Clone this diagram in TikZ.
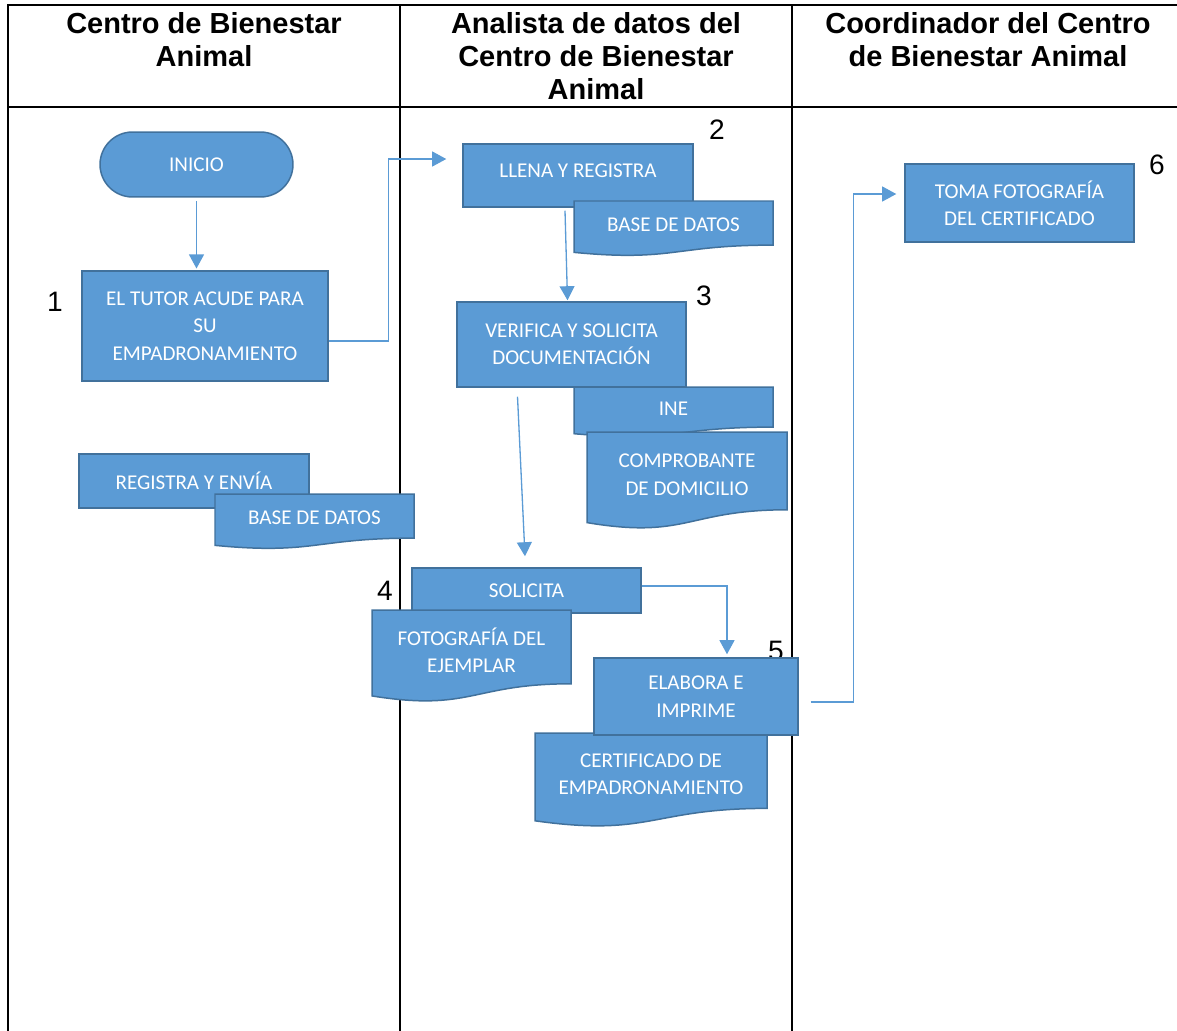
\documentclass[tikz,border=0pt]{standalone}
\usepackage{fontspec}
\setmainfont{Carlito}
\newfontfamily\headfont{Liberation Sans}
\usepackage{tikz}
\usetikzlibrary{arrows.meta}
\usepackage{xcolor}
\definecolor{boxfill}{HTML}{5B9BD5}
\definecolor{boxedge}{HTML}{41719C}
\tikzset{
  lane/.style={line width=1.2pt, black},
  proc/.style={draw=boxedge, fill=boxfill, line width=0.85pt, text=white,
    align=center, inner sep=0pt, font={\fontsize{12pt}{15.6pt}\selectfont}},
  doc/.style={draw=boxedge, fill=boxfill, line width=0.85pt},
  doctext/.style={text=white, align=center, inner sep=0pt,
    font={\fontsize{12pt}{15.6pt}\selectfont}},
  head/.style={align=center, font={\headfont\bfseries\fontsize{16.5pt}{18.7pt}\selectfont}},
  stepnum/.style={font={\headfont\fontsize{16pt}{18pt}\selectfont}},
  flow/.style={draw=boxfill, line width=0.75pt, -{Triangle[width=8.5pt,length=8pt]}}}
% document shape: name, x1, y1, x2, y2, text
\newcommand{\flowdoc}[6]{%
  \draw [doc] (#2,#3) -- (#4,#3) -- (#4,{#3+0.802*(#5-#3)})
    .. controls ({0.5*(#2+#4)},{#3+0.802*(#5-#3)}) and ({0.5*(#2+#4)},{#3+1.108*(#5-#3)}) .. (#2,{#3+0.934*(#5-#3)}) -- cycle;
  \node [doctext] (#1) at ({0.5*(#2+#4)},{#3+0.44*(#5-#3)}) {#6};}

\begin{document}
\begin{tikzpicture}[x=0.02cm, y=-0.02cm]
    \useasboundingbox (0,0) rectangle (1177,1031);

    % Swimlanes
    \draw [lane] (1177,5) -- (8,5) -- (8,1031);
    \draw [lane] (8,107) -- (1177,107);
    \draw [lane] (400,5) -- (400,1031);
    \draw [lane] (792,5) -- (792,1031);
    % Lane titles
    \node [head] (lane1) at (204,39.5) {Centro de Bienestar\\Animal};
    \node [head] (lane2) at (596,56) {Analista de datos del\\Centro de Bienestar\\Animal};
    \node [head] (lane3) at (988,39.5) {Coordinador del Centro\\de Bienestar Animal};

    % Step numbers
    \node [stepnum] (num1) at (55,302) {1};
    \node [stepnum] (num2) at (717,130) {2};
    \node [stepnum] (num3) at (704,296) {3};
    \node [stepnum] (num4) at (385,591) {4};
    \node [stepnum] (num5) at (776,651) {5};
    \node [stepnum] (num6) at (1157,165) {6};

    % Start
    \node [proc, rounded corners=0.65cm, minimum width=3.86cm, minimum height=1.3cm] (inicio) at (196.5,164.5) {INICIO};
    % Step 1
    \node [proc, minimum width=4.92cm, minimum height=2.2cm] (tutor) at (205,326) {EL TUTOR ACUDE PARA\\SU\\EMPADRONAMIENTO};
    \node [proc, minimum width=4.6cm, minimum height=1.08cm] (registra) at (194,481) {REGISTRA Y ENVÍA};
    \flowdoc{basea}{215}{494}{414}{549}{BASE DE DATOS}

    % Step 2
    \node [proc, minimum width=4.6cm, minimum height=1.26cm, text depth=0.2cm] (llena) at (578,175.5) {LLENA Y REGISTRA};
    \flowdoc{baseb}{574}{201}{773}{256}{BASE DE DATOS}

    % Step 3
    \node [proc, minimum width=4.58cm, minimum height=1.7cm] (verifica) at (571.5,344.5) {VERIFICA Y SOLICITA\\DOCUMENTACIÓN};
    \flowdoc{ine}{574}{387}{773}{437}{INE}
    \flowdoc{domicilio}{587}{432}{787}{529}{COMPROBANTE\\DE DOMICILIO}

    % Step 4
    \node [proc, minimum width=4.58cm, minimum height=0.9cm] (solicita) at (526.5,590.5) {SOLICITA};
    \flowdoc{foto}{372}{610}{571}{702}{FOTOGRAFÍA DEL\\EJEMPLAR}

    % Step 5
    \flowdoc{certificado}{535}{733}{767}{827}{CERTIFICADO DE\\EMPADRONAMIENTO}
    \node [proc, minimum width=4.08cm, minimum height=1.54cm] (elabora) at (696,696.5) {ELABORA E\\IMPRIME};

    % Step 6
    \node [proc, minimum width=4.58cm, minimum height=1.56cm] (toma) at (1019.5,203) {TOMA FOTOGRAFÍA\\DEL CERTIFICADO};

    % Connectors
    \draw [flow, shorten <=2pt, shorten >=1pt] (inicio.south) -- (inicio.south |- tutor.north);
    \draw [flow] ([yshift=-0.3cm]tutor.east) -- ++(60,0) |- ([xshift=-0.32cm,yshift=0.33cm]llena.west);
    \draw [flow] ([xshift=-0.26cm,yshift=-0.06cm]llena.south) -- ([xshift=-0.08cm,yshift=0.02cm]verifica.north);
    \draw [flow] ([xshift=-1.08cm,yshift=-0.18cm]verifica.south) -- ([xshift=-0.03cm,yshift=0.22cm]solicita.north);
    \draw [flow] ([yshift=0.09cm]solicita.east) -| ([xshift=0.62cm,yshift=0.06cm]elabora.north);
    \draw [flow] ([xshift=0.24cm,yshift=-0.11cm]elabora.east) -- ++(43,0) |- ([xshift=-0.16cm,yshift=0.18cm]toma.west);
\end{tikzpicture}
\end{document}
